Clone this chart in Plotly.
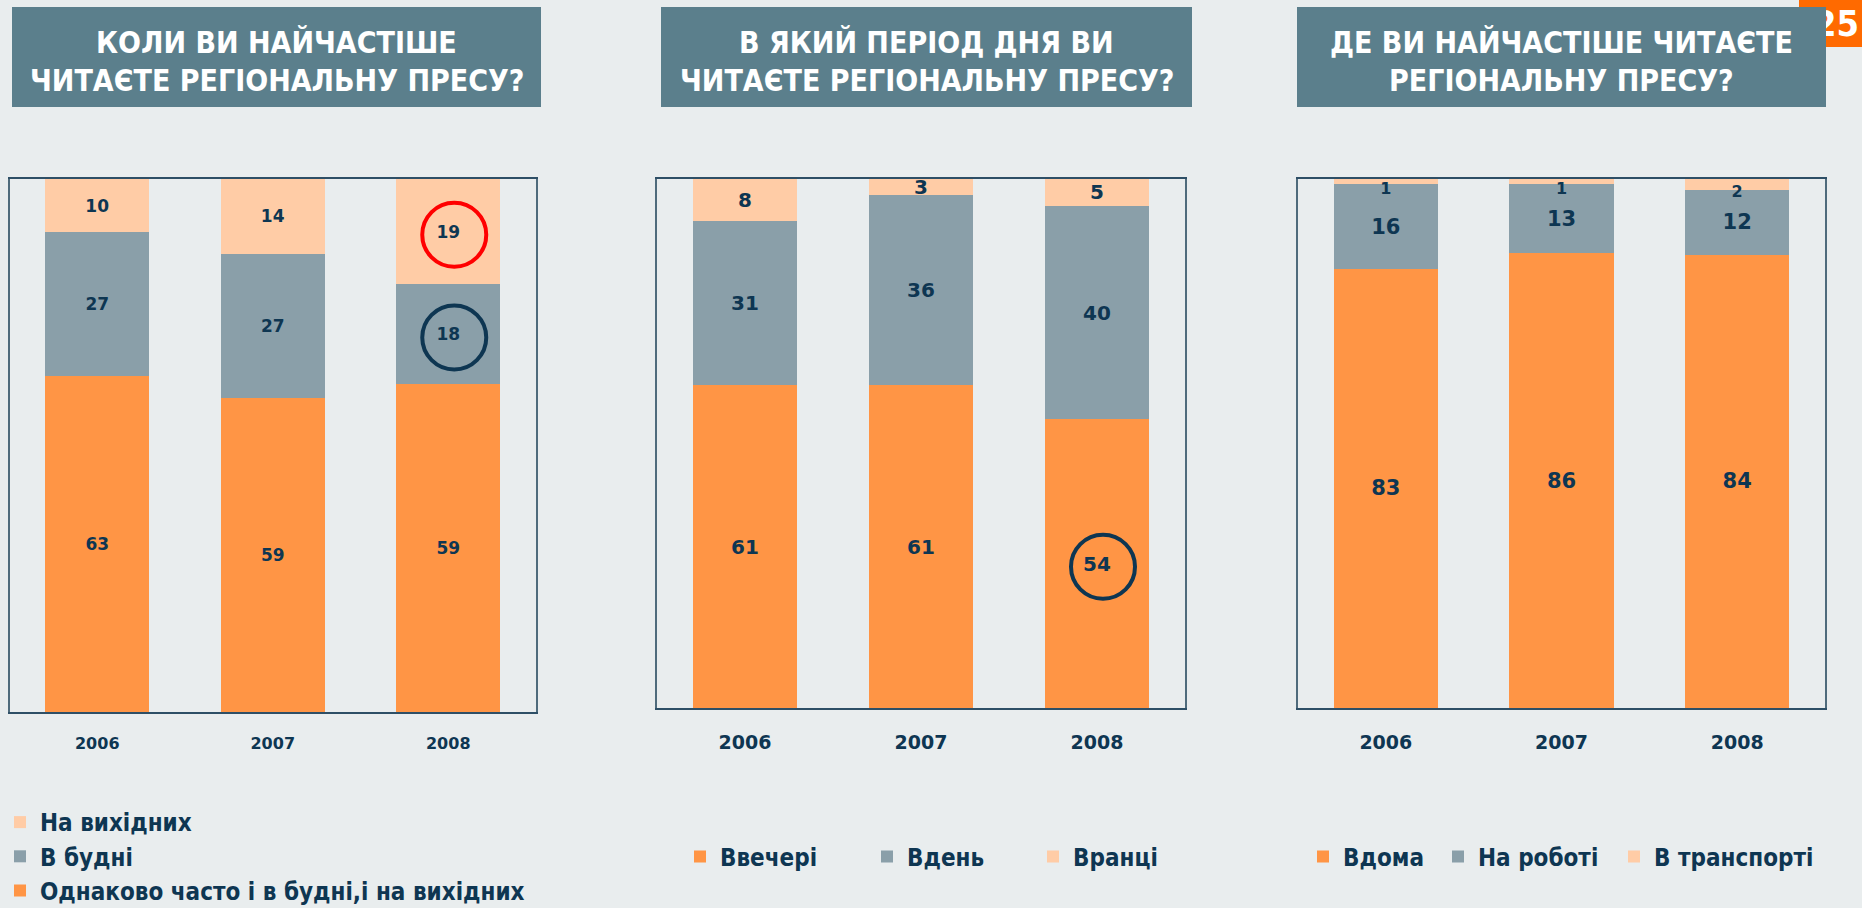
import plotly.graph_objects as go

# ---------------- data ----------------
years = ["2006", "2007", "2008"]

p1_title = ["КОЛИ ВИ НАЙЧАСТІШЕ", "ЧИТАЄТЕ РЕГІОНАЛЬНУ ПРЕСУ?"]
p1_names = ["Однаково часто і в будні,і на вихідних", "В будні", "На вихідних"]
p1_same = [63, 59, 59]
p1_weekdays = [27, 27, 18]
p1_weekend = [10, 14, 19]

p2_title = ["В ЯКИЙ ПЕРІОД ДНЯ ВИ", "ЧИТАЄТЕ РЕГІОНАЛЬНУ ПРЕСУ?"]
p2_names = ["Ввечері", "Вдень", "Вранці"]
p2_evening = [61, 61, 54]
p2_day = [31, 36, 40]
p2_morning = [8, 3, 5]

p3_title = ["ДЕ ВИ НАЙЧАСТІШЕ ЧИТАЄТЕ", "РЕГІОНАЛЬНУ ПРЕСУ?"]
p3_names = ["Вдома", "На роботі", "В транспорті"]
p3_home = [83, 86, 84]
p3_work = [16, 13, 12]
p3_transport = [1, 1, 2]

page_number = "25"

# ---------------- style ----------------
W, H = 1862, 908
ORANGE = "#FF9545"
GREY = "#8A9FA9"
PEACH = "#FFCCA6"
NAVY = "#0E3652"
BG = "#E9EDEE"
TITLE_BG = "#5B7F8C"
PAGE_ORANGE = "#FF6A00"
FONT = "'DejaVu Sans Condensed', 'DejaVu Sans', sans-serif"
NUMFONT = "'DejaVu Sans', sans-serif"

def px_x(p):
    return p / W

def px_y(p):
    return 1 - p / H

# plot frames in pixels (left, right, top, bottom)
frames = [(9.5, 536, 179, 712), (657, 1185, 179, 708), (1298, 1825, 179, 708)]

# legend placement per panel: one legend for panel 1 (vertical), one per item for panels 2 and 3
panel_legends = [
    ["legend", "legend", "legend"],
    ["legend2", "legend3", "legend4"],
    ["legend5", "legend6", "legend7"],
]
single_legend_x = {"legend2": 680, "legend3": 867, "legend4": 1033,
                   "legend5": 1303, "legend6": 1438, "legend7": 1614}

fig = go.Figure()

panels = [
    ([p1_same, p1_weekdays, p1_weekend], p1_names, 17, 16),
    ([p2_evening, p2_day, p2_morning], p2_names, 20, 19),
    ([p3_home, p3_work, p3_transport], p3_names, 21, 19),
]
colors = [ORANGE, GREY, PEACH]

for i, (series, names, lblsize, ticksize) in enumerate(panels):
    ax = "" if i == 0 else str(i + 1)
    for j, (name, vals) in enumerate(zip(names, series)):
        anchor = "middle"
        size = lblsize
        if i == 2 and j == 2:
            anchor = "end"
            size = 16
        fig.add_trace(go.Bar(
            x=years, y=vals, name=name, text=vals, texttemplate="%{text}",
            marker=dict(color=colors[j], line=dict(width=0)),
            textposition="inside", insidetextanchor=anchor, textangle=0,
            constraintext="none",
            textfont=dict(family=NUMFONT, size=size, color=NAVY, weight="bold"),
            xaxis="x" + ax, yaxis="y" + ax, legend=panel_legends[i][j],
            hoverinfo="skip",
        ))

layout_axes = {}
for i, (l, r, t, b) in enumerate(frames):
    ax = "" if i == 0 else str(i + 1)
    ticksize = panels[i][3]
    layout_axes["xaxis" + ax] = dict(
        domain=[px_x(l), px_x(r)], anchor="y" + ax, type="category",
        categoryorder="array", categoryarray=years, range=[-0.5, 2.5],
        showline=True, linecolor="#2E4F66", linewidth=1.5, mirror=True,
        showgrid=False, zeroline=False, ticks="", layer="below traces",
        tickfont=dict(family=NUMFONT, size=ticksize, color=NAVY, weight="bold"),
        ticklabelstandoff=16, fixedrange=True,
    )
    layout_axes["yaxis" + ax] = dict(
        domain=[px_y(b), px_y(t)], anchor="x" + ax, range=[0, 100],
        showline=True, linecolor="#4F6B7C", linewidth=1.5, mirror=True,
        showgrid=False, zeroline=False, showticklabels=False, ticks="",
        layer="below traces", fixedrange=True,
    )

shapes = [
    dict(type="rect", xref="paper", yref="paper", x0=px_x(1799), x1=1,
         y0=px_y(47), y1=1, fillcolor=PAGE_ORANGE, line=dict(width=0), layer="above"),
]
annotations = [
    dict(text="<b>" + page_number + "</b>", xref="paper", yref="paper",
         x=px_x(1861), y=px_y(24), showarrow=False, xanchor="right", yanchor="middle",
         font=dict(family=FONT, size=36, color="white")),
]

# title boxes (drawn as annotations so they cover the page number like the original)
title_boxes = [(12, 541), (661, 1192), (1297, 1826)]
titles = [p1_title, p2_title, p3_title]
for (l, r), lines in zip(title_boxes, titles):
    annotations.append(dict(
        text="\u00a0", xref="paper", yref="paper", x=px_x((l + r) / 2), y=px_y(57),
        xanchor="center", yanchor="middle", showarrow=False, width=r - l, height=100,
        bgcolor=TITLE_BG, borderpad=0, borderwidth=0, font=dict(size=10)))
    for k, line in enumerate(lines):
        annotations.append(dict(
            text=line, xref="paper", yref="paper", x=px_x((l + r) / 2),
            y=px_y(43 + 38 * k), showarrow=False, xanchor="center", yanchor="middle",
            font=dict(family=FONT, size=30, color="white", weight="bold")))

# highlight circles, anchored at segment centres computed from data
def seg_center(stack, idx, col):
    total = sum(s[col] for s in stack)
    below = sum(s[col] for s in stack[:idx])
    return (below + stack[idx][col] / 2) / total * 100

circles = [
    ("x", "y", panels[0][0], 2, 2, "#FF0000"),
    ("x", "y", panels[0][0], 1, 2, NAVY),
    ("x2", "y2", panels[1][0], 0, 2, NAVY),
]
for xr, yr, stack, idx, col, colr in circles:
    shapes.append(dict(
        type="circle", xref=xr, yref=yr, xsizemode="pixel", ysizemode="pixel",
        xanchor=col, yanchor=seg_center(stack, idx, col),
        x0=-26, x1=38, y0=-35, y1=29, line=dict(color=colr, width=4),
        layer="above"))

legend_font = dict(family=FONT, size=24, color=NAVY, weight="bold")
legends = dict(
    legend=dict(x=0, y=px_y(800), xanchor="left", yanchor="top", orientation="v",
                traceorder="reversed", font=legend_font, bgcolor="rgba(0,0,0,0)",
                itemclick=False, itemdoubleclick=False),
)
for key, xpos in single_legend_x.items():
    legends[key] = dict(x=px_x(xpos), y=px_y(857), xanchor="left", yanchor="middle",
                        orientation="h", font=legend_font, bgcolor="rgba(0,0,0,0)",
                        itemclick=False, itemdoubleclick=False)

fig.update_layout(
    width=W, height=H, margin=dict(l=0, r=0, t=0, b=0, autoexpand=False),
    paper_bgcolor=BG, plot_bgcolor=BG,
    barmode="stack", barnorm="percent", bargap=0.405,
    shapes=shapes, annotations=annotations, showlegend=True,
    **legends, **layout_axes,
)

fig.write_html("out.html", config={"displayModeBar": False},
               post_script="document.body.style.margin='0';")
